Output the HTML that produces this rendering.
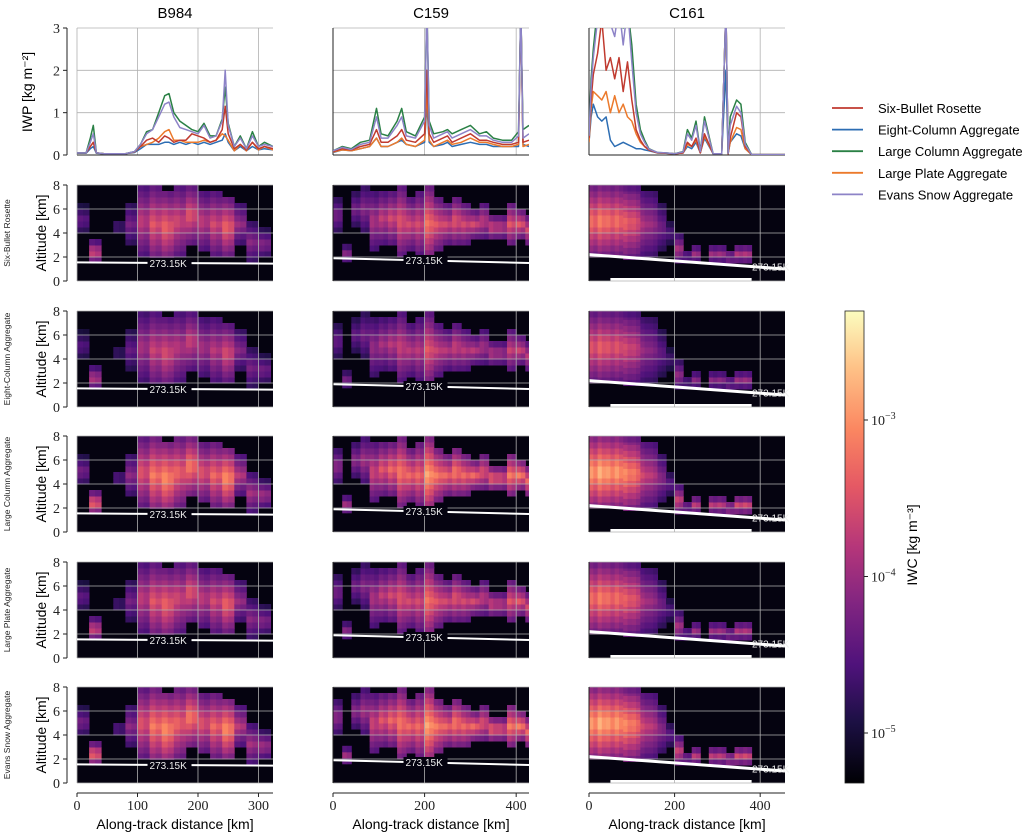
<!DOCTYPE html>
<html><head><meta charset="utf-8">
<style>
html,body{margin:0;padding:0;background:#fff;}
svg{display:block;font-family:"Liberation Sans",sans-serif;}
.tk{font-family:"Liberation Serif",serif;font-size:14px;fill:#222;}
</style></head>
<body>
<svg id="fig" width="1035" height="832" viewBox="0 0 1035 832" xmlns="http://www.w3.org/2000/svg">
<defs>
<linearGradient id="magma" x1="0" y1="1" x2="0" y2="0">
<stop offset="0" stop-color="#000004"/><stop offset="0.13" stop-color="#1c1044"/>
<stop offset="0.25" stop-color="#4f127b"/><stop offset="0.38" stop-color="#812581"/>
<stop offset="0.5" stop-color="#b5367a"/><stop offset="0.63" stop-color="#e55964"/>
<stop offset="0.75" stop-color="#fb8761"/><stop offset="0.88" stop-color="#fec287"/>
<stop offset="1" stop-color="#fcfdbf"/></linearGradient>
</defs>
</svg>
<script>
// ---------- data ----------
const flights = ["B984","C159","C161"];
const habits = ["Six-Bullet Rosette","Eight-Column Aggregate","Large Column Aggregate","Large Plate Aggregate","Evans Snow Aggregate"];
const xMax = [324, 428, 458];
const xTicks = [[0,100,200,300],[0,200,400],[0,200,400]];
const iwpTicks = [0,1,2,3];
const altTicks = [0,2,4,6,8];
// IWP distances (km)
const d0 = [0,15,22,27,32,45,60,80,95,105,115,125,135,145,152,160,170,180,190,200,210,220,230,240,245,250,260,270,280,290,300,310,324];
const d1 = [0,20,40,60,80,95,105,120,140,150,160,180,200,205,210,220,240,250,260,280,300,320,335,350,370,390,405,410,415,428];
const d2 = [0,5,10,20,30,40,50,60,70,80,90,100,110,120,130,140,160,180,200,220,230,240,250,260,270,290,310,320,325,330,345,355,365,380,420,458];
// IWP series by flight, habit order as habits[]
const iwp0 = [
 [0.05,0.05,0.2,0.3,0.05,0.03,0.03,0.03,0.07,0.2,0.35,0.4,0.3,0.45,0.4,0.3,0.35,0.35,0.5,0.45,0.4,0.3,0.35,0.6,1.15,0.5,0.15,0.25,0.12,0.3,0.15,0.2,0.15],
 [0.04,0.04,0.15,0.2,0.04,0.03,0.03,0.03,0.06,0.15,0.25,0.25,0.25,0.3,0.3,0.25,0.3,0.25,0.3,0.25,0.3,0.25,0.3,0.35,0.5,0.3,0.1,0.2,0.1,0.2,0.12,0.15,0.12],
 [0.05,0.05,0.4,0.7,0.05,0.03,0.03,0.03,0.08,0.25,0.55,0.6,1.0,1.4,1.45,1.0,0.8,0.7,0.6,0.55,0.75,0.45,0.45,0.85,1.6,0.75,0.2,0.45,0.15,0.55,0.2,0.3,0.2],
 [0.05,0.05,0.2,0.3,0.05,0.03,0.03,0.03,0.07,0.2,0.25,0.3,0.4,0.55,0.6,0.35,0.35,0.3,0.3,0.3,0.35,0.3,0.35,0.5,0.45,0.35,0.1,0.25,0.1,0.3,0.12,0.2,0.12],
 [0.05,0.05,0.3,0.5,0.05,0.03,0.03,0.03,0.08,0.25,0.5,0.6,0.9,1.2,1.25,0.9,0.65,0.6,0.55,0.5,0.7,0.4,0.45,0.8,2.0,0.7,0.2,0.4,0.15,0.45,0.2,0.25,0.2]];
const iwp1 = [
 [0.08,0.15,0.12,0.2,0.25,0.6,0.3,0.3,0.45,0.6,0.35,0.3,0.5,2.0,0.5,0.3,0.4,0.45,0.3,0.4,0.5,0.35,0.35,0.3,0.25,0.25,0.3,3.5,0.3,0.35],
 [0.06,0.12,0.1,0.15,0.2,0.4,0.2,0.2,0.3,0.35,0.25,0.2,0.3,1.2,0.3,0.2,0.25,0.3,0.2,0.25,0.3,0.25,0.25,0.2,0.2,0.2,0.2,3.5,0.25,0.2],
 [0.1,0.2,0.15,0.3,0.35,1.1,0.5,0.45,0.8,1.1,0.55,0.45,0.9,3.5,0.8,0.5,0.55,0.6,0.5,0.6,0.7,0.5,0.55,0.4,0.35,0.35,0.55,3.5,0.6,0.7],
 [0.07,0.12,0.1,0.15,0.2,0.4,0.2,0.2,0.3,0.4,0.25,0.2,0.35,1.5,0.35,0.2,0.3,0.35,0.25,0.3,0.4,0.3,0.3,0.25,0.2,0.2,0.25,3.5,0.2,0.25],
 [0.1,0.18,0.13,0.25,0.3,0.9,0.4,0.4,0.7,0.9,0.45,0.4,0.8,3.5,0.7,0.4,0.5,0.55,0.4,0.5,0.6,0.45,0.45,0.35,0.3,0.3,0.45,3.5,0.4,0.5]];
const iwp2 = [
 [0.4,1.3,1.9,2.4,3.2,2.0,2.3,1.8,2.3,1.5,2.2,1.3,0.6,0.35,0.2,0.12,0.05,0.04,0.03,0.05,0.3,0.2,0.4,0.05,0.5,0.03,0.03,3.5,0.03,0.4,1.0,0.9,0.2,0.01,0.01,0.01],
 [0.3,0.9,1.2,0.9,0.8,0.9,0.35,0.2,0.25,0.3,0.25,0.2,0.15,0.15,0.12,0.1,0.05,0.04,0.03,0.05,0.2,0.15,0.3,0.05,0.4,0.03,0.03,2.0,0.03,0.3,0.5,0.45,0.15,0.01,0.01,0.01],
 [0.5,1.8,2.5,3.5,3.5,3.5,3.5,3.2,3.5,3.0,3.5,2.6,1.2,0.6,0.35,0.15,0.06,0.05,0.03,0.08,0.6,0.4,0.8,0.1,0.9,0.03,0.03,3.5,0.05,0.9,1.3,1.2,0.3,0.01,0.01,0.01],
 [0.3,1.1,1.5,1.4,1.3,1.5,1.0,1.4,1.0,1.2,0.9,0.8,0.5,0.3,0.2,0.12,0.05,0.04,0.03,0.05,0.25,0.2,0.35,0.05,0.45,0.03,0.03,3.5,0.03,0.3,0.65,0.6,0.15,0.01,0.01,0.01],
 [0.45,1.6,2.3,3.2,3.5,3.5,3.1,2.8,3.5,2.6,3.5,2.2,1.0,0.5,0.3,0.14,0.06,0.05,0.03,0.07,0.5,0.35,0.7,0.08,0.8,0.03,0.03,3.5,0.04,0.7,1.15,1.0,0.25,0.01,0.01,0.01]];
// heatmap column profiles per flight (20 km bins): cloud top, base (km), peak intensity (0..1)
const hmTop0 = [6.2,3.3,0,5.0,6.5,8,8,7.5,8,8,7.5,7.5,7,6.5,5,4.2];
const hmBase0 = [4.0,1.5,0,4.0,3.0,2,1.5,1.5,2,3,2.5,2,2,3,1.5,2];
const hmInt0 = [0.35,0.65,0,0.3,0.4,0.6,0.7,0.75,0.65,0.7,0.6,0.65,0.75,0.5,0.45,0.45];
const hmTop1 = [7,3,7.5,8,7.5,7.5,7.5,8,7,7.5,8,7,6.5,7,6.5,6,6.5,5.5,5.5,6.5,6,5.5];
const hmBase1 = [4,1.6,4.5,4,2.5,3,3,2,2.5,2,1.6,2.5,3,3,3,3.5,3.5,3.5,3.5,3,3.5,3];
const hmInt1 = [0.4,0.45,0.4,0.45,0.55,0.6,0.65,0.7,0.65,0.65,0.8,0.7,0.65,0.7,0.65,0.65,0.6,0.65,0.6,0.7,0.7,0.65];
const hmTop2 = [8,8,8,8,8,8,7.5,7.5,6.5,5,3.8,2.5,3,0,3,3,2.5,3,3,0,0,0,0];
const hmBase2 = [2,2,2,2,1.8,1.8,2,2,2.5,3,1.5,1.5,1.5,0,1.5,1.5,1.5,1.5,1.5,0,0,0,0];
const hmInt2 = [0.8,0.85,0.8,0.8,0.75,0.7,0.55,0.5,0.4,0.3,0.55,0.4,0.5,0,0.5,0.5,0.5,0.55,0.55,0,0,0,0];
const habitScale = [0.9,0.8,1.05,0.9,1.05];
// freezing level (km) at start/end per flight
const frzStart = [1.55,1.9,2.2];
const frzEnd = [1.45,1.5,1.0];
const cbTicks = [[-3,"10"],[-4,"10"],[-5,"10"]];

// ---------- layout ----------
const NS="http://www.w3.org/2000/svg";
const svg=document.getElementById('fig');
const colX=[77,333,589], colW=196;
const iwpTop=28, iwpBot=155;
const rowTop=[185,311,436,562,687], rowH=96;
const colors=["#c03a2f","#2c6db3","#2a8045","#ec7a2c","#8d83c7"];
const mag=[[0,"#000004"],[0.13,"#1c1044"],[0.25,"#4f127b"],[0.38,"#812581"],[0.5,"#b5367a"],[0.63,"#e55964"],[0.75,"#fb8761"],[0.88,"#fec287"],[1,"#fcfdbf"]];
function hex(c){return [1,3,5].map(i=>parseInt(c.substr(i,2),16));}
function magma(t){t=Math.max(0,Math.min(1,t));for(let i=1;i<mag.length;i++){if(t<=mag[i][0]){const a=mag[i-1],b=mag[i];const f=(t-a[0])/(b[0]-a[0]);const ca=hex(a[1]),cb=hex(b[1]);return "rgb("+ca.map((v,k)=>Math.round(v+(cb[k]-v)*f)).join(",")+")";}}return mag[8][1];}
function el(tag,attrs,parent){const e=document.createElementNS(NS,tag);for(const k in attrs)e.setAttribute(k,attrs[k]);(parent||svg).appendChild(e);return e;}
function txt(x,y,s,attrs,parent){const t=el('text',Object.assign({x:x,y:y},attrs),parent);t.textContent=s;return t;}
const xs=(c,v)=>colX[c]+v/xMax[c]*colW;
const yI=v=>iwpBot-v/3*(iwpBot-iwpTop);
const yA=(r,v)=>rowTop[r]+rowH-v/8*rowH;
const iwpData=[iwp0,iwp1,iwp2], dists=[d0,d1,d2];
const hm=[[hmTop0,hmBase0,hmInt0],[hmTop1,hmBase1,hmInt1],[hmTop2,hmBase2,hmInt2]];

for(let c=0;c<3;c++){
  const t=txt(colX[c]+colW/2,18,flights[c],{"text-anchor":"middle","font-size":"15"});
  
  
  // IWP panel
  const g=el('g',{});
  
  
  const cid='clipI'+c;
  const cp=el('clipPath',{id:cid},g);el('rect',{x:colX[c],y:iwpTop,width:colW,height:iwpBot-iwpTop},cp);
  iwpTicks.forEach(v=>{el('line',{x1:colX[c],x2:colX[c]+colW,y1:yI(v),y2:yI(v),stroke:"#b0b0b0","stroke-width":0.8},g);});
  xTicks[c].forEach(v=>{el('line',{x1:xs(c,v),x2:xs(c,v),y1:iwpTop,y2:iwpBot,stroke:"#b0b0b0","stroke-width":0.8},g);});
  el('line',{x1:colX[c],x2:colX[c]+colW,y1:iwpBot,y2:iwpBot,stroke:"#222","stroke-width":1},g);
  const lx=c==0?67:colX[c];
  el('line',{x1:lx,x2:lx,y1:iwpTop,y2:iwpBot,stroke:"#222","stroke-width":1},g);
  if(c==0){iwpTicks.forEach(v=>{el('line',{x1:lx-4,x2:lx,y1:yI(v),y2:yI(v),stroke:"#222"},g);txt(lx-7,yI(v)+5,String(v),{"text-anchor":"end","class":"tk"},g);});}
  const lg=el('g',{"clip-path":"url(#"+cid+")"},g);
  const order=[1,3,0,2,4];
  order.forEach(h=>{
    const pts=dists[c].map((d,i)=>xs(c,d).toFixed(1)+","+yI(iwpData[c][h][i]).toFixed(1)).join(" ");
    const pl=el('polyline',{points:pts,fill:"none",stroke:colors[h],"stroke-width":1.5,"stroke-linejoin":"round"},lg);
    
    
  });
  // heatmaps
  for(let r=0;r<5;r++){
    const hg=el('g',{});
    
    
    const hcid='clipH'+c+'_'+r;
    const hcp=el('clipPath',{id:hcid},hg);el('rect',{x:colX[c],y:rowTop[r],width:colW,height:rowH},hcp);
    const cells=el('g',{"clip-path":"url(#"+hcid+")"},hg);
    el('rect',{x:colX[c],y:rowTop[r],width:colW,height:rowH,fill:"#050310"},cells);
    const [tp,bs,it]=hm[c];
    const cw=20/xMax[c]*colW;
    for(let b=0;b<tp.length;b++){
      if(!it[b])continue;
      const mid=(tp[b]+bs[b])/2, half=(tp[b]-bs[b])/2;
      for(let z=bs[b];z<tp[b]-0.01;z+=0.5){
        for(let s=0;s<2;s++){
          const zz=z+0.25;
          let v=it[b]*habitScale[r]*(1-0.55*Math.abs(zz-mid)/Math.max(half,0.5))*(s?0.92:1);
          const x0=xs(c,b*20+s*10);
          el('rect',{x:x0.toFixed(1),y:yA(r,Math.min(z+0.5,8)).toFixed(1),width:(cw/2+0.5).toFixed(1),height:(rowH/16+0.5).toFixed(1),fill:magma(v)},cells);
        }
      }
    }
    if(c==2){
      el('rect',{x:xs(c,50),y:yA(r,0.25),width:xs(c,380)-xs(c,50),height:yA(r,0)-yA(r,0.25),fill:"#fff"},cells);
    }
    altTicks.forEach(v=>{el('line',{x1:colX[c],x2:colX[c]+colW,y1:yA(r,v),y2:yA(r,v),stroke:"#b0b0b0","stroke-width":0.8},hg);});
    xTicks[c].forEach(v=>{el('line',{x1:xs(c,v),x2:xs(c,v),y1:rowTop[r],y2:rowTop[r]+rowH,stroke:"#b0b0b0","stroke-width":0.8},hg);});
    // freezing line
    const fy0=yA(r,frzStart[c]), fy1=yA(r,frzEnd[c]);
    const fl=el('line',{x1:colX[c],y1:fy0,x2:colX[c]+colW,y2:fy1,stroke:"#fff","stroke-width":c==2?3:2},hg);
    
    
    const lxp=c==2?colX[c]+colW-33:colX[c]+colW*0.37;
    const lyp=fy0+(fy1-fy0)*((lxp-colX[c])/colW);
    if(c!=2)el('rect',{x:lxp-2,y:lyp-5,width:44,height:10,fill:"#050310"},hg);
    txt(lxp,lyp+4,"273.15K",{fill:"#eee","font-size":"10"},hg);
    const ax=c==0?67:colX[c];
    el('line',{x1:ax,x2:ax,y1:rowTop[r],y2:rowTop[r]+rowH,stroke:"#222"},hg);
    if(c==0){
      altTicks.forEach(v=>{el('line',{x1:ax-4,x2:ax,y1:yA(r,v),y2:yA(r,v),stroke:"#222"},hg);txt(ax-7,yA(r,v)+5,String(v),{"text-anchor":"end","class":"tk"},hg);});
      const yl=txt(0,0,"Altitude [km]",{"font-size":"14","text-anchor":"middle",transform:"translate(46,"+(rowTop[r]+rowH/2)+") rotate(-90)"},hg);
      
      
      const rl=txt(0,0,habits[r],{"font-size":"8.5","text-anchor":"middle",fill:"#222",transform:"translate(10,"+(rowTop[r]+rowH/2)+") rotate(-90)"},hg);
      
      
    }
  }
  // x axis
  const xg=el('g',{});
  
  
  el('line',{x1:colX[c],x2:colX[c]+colW,y1:793,y2:793,stroke:"#222"},xg);
  xTicks[c].forEach(v=>{el('line',{x1:xs(c,v),x2:xs(c,v),y1:793,y2:797,stroke:"#222"},xg);txt(xs(c,v),810,String(v),{"text-anchor":"middle","class":"tk"},xg);});
  txt(colX[c]+colW/2,829,"Along-track distance [km]",{"text-anchor":"middle","font-size":"14"},xg);
}
const iy=txt(0,0,"IWP [kg m\u207B\u00B2]",{"font-size":"14","text-anchor":"middle",transform:"translate(32,92) rotate(-90)"});


// legend
const lgd=el('g',{});


habits.forEach((h,i)=>{
  const y=108+i*21.6;
  el('line',{x1:832,x2:863,y1:y,y2:y,stroke:colors[i],"stroke-width":1.8},lgd);
  const t=txt(878,y+5,h,{"font-size":"13"},lgd);
  
  
});
// colorbar
const cb=el('g',{});


el('rect',{x:845,y:311,width:19,height:472,fill:"url(#magma)",stroke:"#222","stroke-width":0.8},cb);
const cbY=e=>420+(-3-e)*156.5;
cbTicks.forEach(([e,s])=>{const y=cbY(e);el('line',{x1:864,x2:868,y1:y,y2:y,stroke:"#222"},cb);const t=txt(871,y+5,s,{"class":"tk"},cb);const sp=el('tspan',{dy:"-6","font-size":"10"},t);sp.textContent="\u2212"+(-e);});
txt(0,0,"IWC [kg m\u207B\u00B3]",{"font-size":"14","text-anchor":"middle",transform:"translate(917,545) rotate(-90)"},cb);
</script>
</body></html>
